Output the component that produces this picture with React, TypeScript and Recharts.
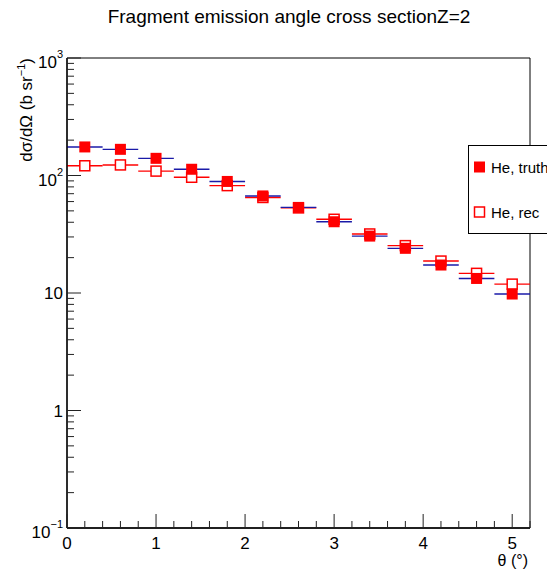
import { ComposedChart, ErrorBar, ReferenceArea, Scatter, XAxis, YAxis } from "recharts";

// bin centres (deg) and half bin widths
const thetaCenters = [0.2, 0.6, 1.0, 1.4, 1.8, 2.2, 2.6, 3.0, 3.4, 3.8, 4.2, 4.6, 5.0];
const binHalfWidth = [0.2, 0.2, 0.2, 0.2, 0.2, 0.2, 0.2, 0.2, 0.2, 0.2, 0.2, 0.2, 0.2];

// dsigma/dOmega in b/sr
const truthValues = [175, 167, 140, 113, 89, 67, 53.5, 40.4, 30.5, 24, 17.3, 13.3, 9.8];
const recValues = [121, 123, 109, 96.6, 82, 65, 53, 42.4, 31.8, 25.3, 18.7, 14.7, 11.9];

const xMajorTicks = [0, 1, 2, 3, 4, 5];
const xMinorTicks = [0.2, 0.4, 0.6, 0.8, 1.2, 1.4, 1.6, 1.8, 2.2, 2.4, 2.6, 2.8, 3.2, 3.4, 3.6, 3.8, 4.2, 4.4, 4.6, 4.8, 5.2];
const yMajorTicks = [0.1, 1, 10, 100, 1000];
const yMinorTicks = [
  0.2, 0.3, 0.4, 0.5, 0.6, 0.7, 0.8, 0.9,
  2, 3, 4, 5, 6, 7, 8, 9,
  20, 30, 40, 50, 60, 70, 80, 90,
  200, 300, 400, 500, 600, 700, 800, 900,
];
const yTickLabels: Record<number, [string, string]> = {
  0.1: ["10", "\u22121"],
  1: ["1", ""],
  10: ["10", ""],
  100: ["10", "2"],
  1000: ["10", "3"],
};

const truthData = thetaCenters.map((x, i) => ({ x, y: truthValues[i], ex: binHalfWidth[i] }));
const recData = thetaCenters.map((x, i) => ({ x, y: recValues[i], ex: binHalfWidth[i] }));

const FONT = "'Liberation Sans', Arial, Helvetica, sans-serif";
const RED = "#ff0000";
const BLUE = "#1a1aa8";
const Y_MARGIN = 4;
const X_MARGIN = 8;

function YTick(props: any) {
  const { x, y, payload } = props;
  const v = payload.value as number;
  const major = yMajorTicks.includes(v);
  const len = major ? 14 : 7;
  const lbl = yTickLabels[v];
  return (
    <g>
      <line x1={x + Y_MARGIN} x2={x + Y_MARGIN + len} y1={y} y2={y} stroke="#222" strokeWidth={1} />
      {major && lbl && (
        <text x={x} y={lbl[1] ? y + 4 : y} textAnchor="end" dominantBaseline="central" fontSize={17} fontFamily={FONT} fill="#000">
          <tspan>{lbl[0]}</tspan>
          {lbl[1] && (
            <tspan dy={-8} fontSize={11}>
              {lbl[1]}
            </tspan>
          )}
        </text>
      )}
    </g>
  );
}

function XTick(props: any) {
  const { x, y, payload } = props;
  const v = payload.value as number;
  const major = xMajorTicks.includes(v);
  const len = major ? 14 : 7;
  return (
    <g>
      <line x1={x} x2={x} y1={y - X_MARGIN} y2={y - X_MARGIN - len} stroke="#222" strokeWidth={1} />
      {major && (
        <text x={x} y={y} dy="0.75em" textAnchor="middle" fontSize={17} fontFamily={FONT} fill="#000">
          {v}
        </text>
      )}
    </g>
  );
}

const FilledSquare = (p: any) => <rect x={p.cx - 5.5} y={p.cy - 5.5} width={11} height={11} fill={RED} />;
const OpenSquare = (p: any) => (
  <rect x={p.cx - 5} y={p.cy - 5} width={10} height={10} fill="#fff" stroke={RED} strokeWidth={1.5} />
);

export default function App() {
  return (
    <div style={{ position: "absolute", left: 0, top: 0, width: 547, height: 571, overflow: "hidden", background: "#fff" }}>
      <ComposedChart width={547} height={571} margin={{ top: 58, right: 17, bottom: 0, left: 0 }}>
        <XAxis
          type="number"
          dataKey="x"
          domain={[0, 5.2]}
          allowDataOverflow
          ticks={[...xMajorTicks, ...xMinorTicks].sort((a, b) => a - b)}
          interval={0}
          height={43}
          tickSize={0}
          tickMargin={X_MARGIN}
          tickLine={false}
          axisLine={{ stroke: "#000", strokeWidth: 1.3 }}
          tick={<XTick />}
        />
        <YAxis
          type="number"
          dataKey="y"
          scale="log"
          domain={[0.1, 1000]}
          allowDataOverflow
          ticks={[...yMajorTicks, ...yMinorTicks].sort((a, b) => a - b)}
          interval={0}
          width={67}
          tickSize={0}
          tickMargin={Y_MARGIN}
          tickLine={false}
          axisLine={{ stroke: "#000", strokeWidth: 1.3 }}
          tick={<YTick />}
        />
        <ReferenceArea x1={0} x2={5.2} y1={0.1} y2={1000} fill="none" stroke="#000" strokeWidth={1} />
        <Scatter data={recData} shape={<OpenSquare />} isAnimationActive={false}>
          <ErrorBar dataKey="ex" direction="x" width={0} stroke={RED} strokeWidth={1.4} />
        </Scatter>
        <Scatter data={truthData} shape={<FilledSquare />} isAnimationActive={false}>
          <ErrorBar dataKey="ex" direction="x" width={0} stroke={BLUE} strokeWidth={1.4} />
        </Scatter>
      </ComposedChart>

      <svg width={547} height={571} style={{ position: "absolute", left: 0, top: 0, pointerEvents: "none" }}>
        <text x={289} y={23} textAnchor="middle" fontSize={19} fontFamily={FONT} fill="#000">
          Fragment emission angle cross sectionZ=2
        </text>
        <text transform="translate(32,58) rotate(-90)" textAnchor="end" fontSize={17} fontFamily={FONT} fill="#000">
          <tspan>dσ/dΩ (b sr</tspan>
          <tspan dy={-7} fontSize={11}>−1</tspan>
          <tspan dy={7}>)</tspan>
        </text>
        <text x={528} y={566} textAnchor="end" fontSize={16} fontFamily={FONT} fill="#000">
          θ (°)
        </text>

        {/* legend box, runs past the right edge */}
        <rect x={468.5} y={145.5} width={120} height={88} fill="#fff" stroke="#000" strokeWidth={1} />
        <rect x={474} y={161.5} width={11} height={11} fill={RED} />
        <text x={491} y={167} dominantBaseline="central" fontSize={15} fontFamily={FONT} fill="#000">
          He, truth
        </text>
        <rect x={474.5} y={207} width={10} height={10} fill="#fff" stroke={RED} strokeWidth={1.5} />
        <text x={491} y={212} dominantBaseline="central" fontSize={15} fontFamily={FONT} fill="#000">
          He, rec
        </text>
      </svg>
    </div>
  );
}
